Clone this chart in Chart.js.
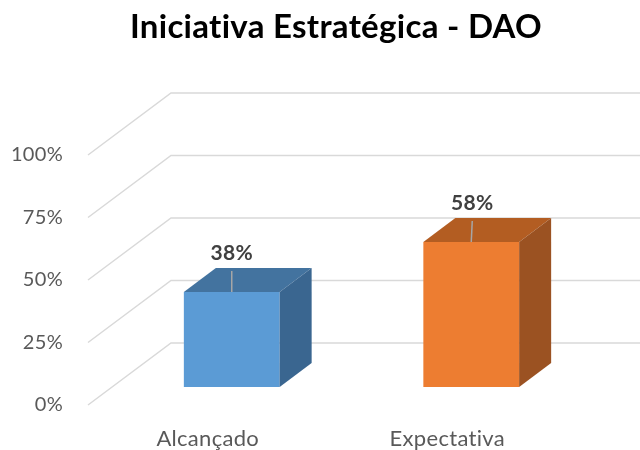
<!DOCTYPE html>
<html>
<head>
<meta charset="utf-8">
<script src="https://cdn.jsdelivr.net/npm/chart.js@4/dist/chart.umd.min.js"></script>
<style>
  html, body { margin: 0; padding: 0; background: #fff; }
  #wrap { width: 640px; height: 450px; }
</style>
</head>
<body>
<div id="wrap"><canvas id="chart"></canvas></div>
<script>
const title = 'Iniciativa Estratégica - DAO';
const categories = ["Alcançado", "Expectativa"];
const values = [0.38, 0.58];
const tickValues = [0, 0.25, 0.5, 0.75, 1];

// fake 3D: bar plane is the chart area, front/back planes are shifted from it
const FRONT = { dx: -24, dy: 18 };
const BACK = { dx: 59, dy: -44 };
const BAR_DEPTH = { dx: 32, dy: -24 };

const topColors = ["#43739f", "#b35d22"];
const sideColors = ["#3a6690", "#9b5222"];

function poly(ctx, pts) {
  ctx.beginPath();
  ctx.moveTo(pts[0][0], pts[0][1]);
  for (let i = 1; i < pts.length; i++) ctx.lineTo(pts[i][0], pts[i][1]);
  ctx.closePath();
  ctx.fill();
}

const cube = {
  id: 'cube',
  beforeDraw(chart) {
    // small spacing so Lato does not turn "ti" into a ligature
    chart.ctx.letterSpacing = '0.3px';
  },
  beforeDatasetsDraw(chart) {
    const ctx = chart.ctx;
    const a = chart.chartArea;
    const y = chart.scales.y;
    ctx.save();
    ctx.strokeStyle = '#d9d9d9';
    ctx.lineWidth = 1.5;
    tickValues.forEach(function(v) {
      const py = y.getPixelForValue(v);
      ctx.beginPath();
      ctx.moveTo(a.left + FRONT.dx, py + FRONT.dy);
      ctx.lineTo(a.left + BACK.dx, py + BACK.dy);
      ctx.lineTo(a.right + BACK.dx, py + BACK.dy);
      ctx.stroke();
    });
    ctx.restore();
  },
  afterDatasetsDraw(chart) {
    const ctx = chart.ctx;
    const meta = chart.getDatasetMeta(0);
    ctx.save();
    meta.data.forEach(function(bar, i) {
      const p = bar.getProps(['x', 'y', 'base', 'width'], true);
      const l = p.x - p.width / 2, r = p.x + p.width / 2;
      const dx = BAR_DEPTH.dx, dy = BAR_DEPTH.dy;
      ctx.fillStyle = topColors[i];
      poly(ctx, [[l, p.y], [r, p.y], [r + dx, p.y + dy], [l + dx, p.y + dy]]);
      ctx.fillStyle = sideColors[i];
      poly(ctx, [[r, p.y], [r + dx, p.y + dy], [r + dx, p.base + dy], [r, p.base]]);

      // leader line + label
      ctx.strokeStyle = '#a6a6a6';
      ctx.lineWidth = 1.5;
      ctx.beginPath();
      ctx.moveTo(p.x, p.y);
      ctx.lineTo(p.x + i, p.y - 21);
      ctx.stroke();

      ctx.fillStyle = '#404040';
      ctx.font = 'bold 21px Lato';
      ctx.textAlign = 'center';
      ctx.textBaseline = 'alphabetic';
      ctx.fillText(Math.round(values[i] * 100) + '%', p.x + i, p.y - 32);
    });
    ctx.restore();
  },
  afterDraw(chart) {
    // title sits a bit right of centre, like the original
    const ctx = chart.ctx;
    ctx.save();
    ctx.fillStyle = '#000';
    ctx.font = 'bold 33px Lato';
    ctx.textAlign = 'center';
    ctx.textBaseline = 'alphabetic';
    ctx.fillText(title, 336, 38);
    ctx.restore();
  }
};

new Chart(document.getElementById('chart'), {
  type: 'bar',
  data: {
    labels: categories,
    datasets: [{
      data: values,
      backgroundColor: ["#5b9bd5", "#ed7d31"],
      borderWidth: 0,
      barPercentage: 0.4,
      categoryPercentage: 1
    }]
  },
  plugins: [cube],
  options: {
    responsive: true,
    maintainAspectRatio: false,
    animation: false,
    layout: { padding: { left: 0, right: 49, top: 137, bottom: 0 } },
    plugins: {
      legend: { display: false },
      tooltip: { enabled: false },
      title: { display: false }
    },
    scales: {
      x: {
        grid: { display: false },
        border: { display: false },
        ticks: {
          color: '#595959',
          font: { family: 'Lato', size: 22 },
          labelOffset: FRONT.dx,
          padding: 31
        },
        afterFit: function(s) { s.height = 63; }
      },
      y: {
        min: 0,
        max: 1,
        grid: { display: false },
        border: { display: false },
        ticks: {
          stepSize: 0.25,
          color: '#595959',
          font: { family: 'Lato', size: 20 },
          labelOffset: FRONT.dy,
          padding: 41,
          callback: function(v) { return Math.round(v * 100) + '%'; }
        },
        afterFit: function(s) { s.width = 112; }
      }
    }
  }
});
</script>
</body>
</html>
